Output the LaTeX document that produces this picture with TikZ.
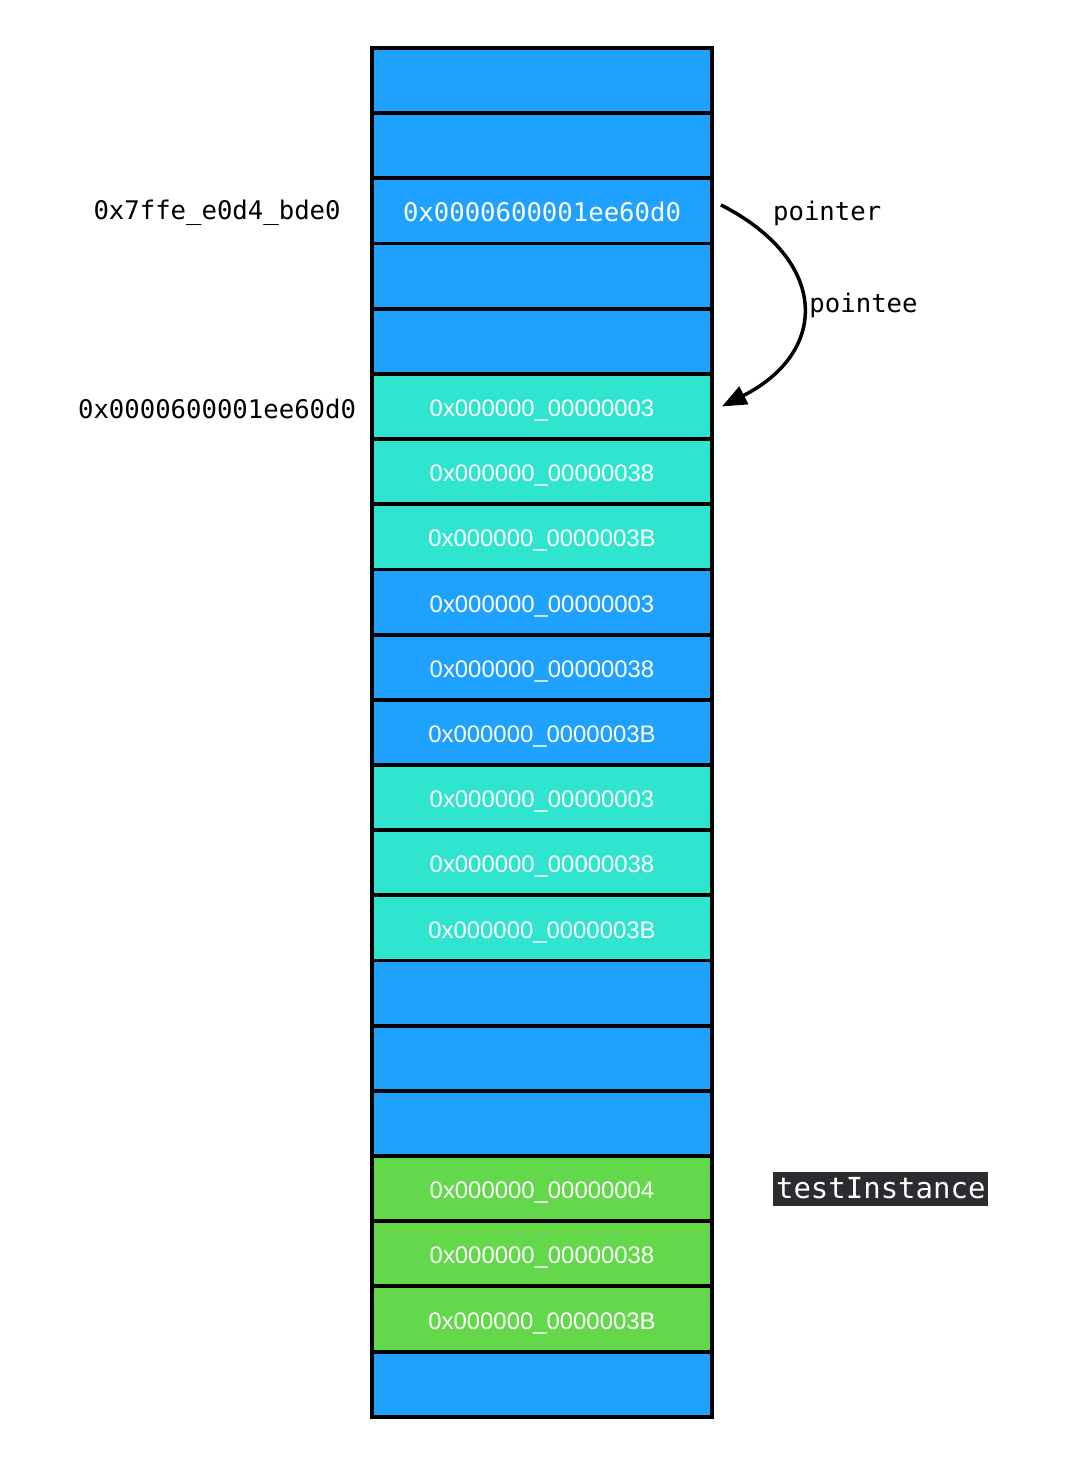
\documentclass[tikz,border=0pt]{standalone}
\usepackage{fontspec}
\usepackage{tikz}
\usetikzlibrary{positioning, arrows.meta}
\newfontfamily\monofont{DejaVu Sans Mono}
\newfontfamily\cellfont{Liberation Sans}
\definecolor{slotblue}{HTML}{1EA1FF}
\definecolor{slotteal}{HTML}{30E5D0}
\definecolor{slotgreen}{HTML}{62D84A}
\definecolor{tagdark}{HTML}{2B2B30}

\begin{document}
\begin{tikzpicture}[
        x=0.02cm, y=-0.02cm,
        node distance=0cm,
        slot/.style={draw, line width=2.2pt, minimum width=6.8cm, minimum height=1.3038cm,
            outer sep=0pt, inner sep=0pt, text=white, text height=1.25em, text depth=0.1em,
            font=\cellfont\fontsize{13.6}{16}\selectfont},
        blueslot/.style={slot, fill=slotblue},
        tealslot/.style={slot, fill=slotteal},
        greenslot/.style={slot, fill=slotgreen},
        addr/.style={font=\monofont\fontsize{14.6}{17}\selectfont},
        tag/.style={fill=tagdark, text=white, inner sep=0pt, minimum width=4.3cm,
            minimum height=0.68cm, font=\monofont\fontsize{16.5}{19}\selectfont}
        ]
        \useasboundingbox (0,0) rectangle (1066,1458);
        % Memory cells
        \node[blueslot] (c0) at (542,80.6) {};
        \node[blueslot] (c1) [below=of c0] {};
        \node[blueslot, addr, text=white] (c2) [below=of c1] {0x0000600001ee60d0};
        \node[blueslot] (c3) [below=of c2] {};
        \node[blueslot] (c4) [below=of c3] {};
        \node[tealslot] (c5) [below=of c4] {0x000000\_00000003};
        \node[tealslot] (c6) [below=of c5] {0x000000\_00000038};
        \node[tealslot] (c7) [below=of c6] {0x000000\_0000003B};
        \node[blueslot] (c8) [below=of c7] {0x000000\_00000003};
        \node[blueslot] (c9) [below=of c8] {0x000000\_00000038};
        \node[blueslot] (c10) [below=of c9] {0x000000\_0000003B};
        \node[tealslot] (c11) [below=of c10] {0x000000\_00000003};
        \node[tealslot] (c12) [below=of c11] {0x000000\_00000038};
        \node[tealslot] (c13) [below=of c12] {0x000000\_0000003B};
        \node[blueslot] (c14) [below=of c13] {};
        \node[blueslot] (c15) [below=of c14] {};
        \node[blueslot] (c16) [below=of c15] {};
        \node[greenslot] (c17) [below=of c16] {0x000000\_00000004};
        \node[greenslot] (c18) [below=of c17] {0x000000\_00000038};
        \node[greenslot] (c19) [below=of c18] {0x000000\_0000003B};
        \node[blueslot] (c20) [below=of c19] {};

        % Addresses
        \node[addr] (addrptr) at ([xshift=-6.5cm, yshift=-0.04cm]c2.center) {0x7ffe\_e0d4\_bde0};
        \node[addr] (addrobj) at ([xshift=-6.5cm, yshift=-0.04cm]c5.center) {0x0000600001ee60d0};
        \node[addr, anchor=west] (ptrlabel) at ([xshift=1.1cm, yshift=-0.04cm]c2.east) {pointer};
        \node[tag, anchor=west] (instance) at ([xshift=1.22cm]c17.east) {testInstance};

        % Arrow
        \draw[line width=2pt, -{Stealth[length=14pt, width=11pt, inset=0pt]}]
            ([xshift=0.18cm, yshift=0.12cm]c2.east)
            .. controls +(108,55) and +(108,-55) ..
            node[addr, pos=0.5, anchor=west, inner sep=3pt] (ptelabel) {pointee}
            ([xshift=0.2cm]c5.east);
    \end{tikzpicture}
\end{document}
